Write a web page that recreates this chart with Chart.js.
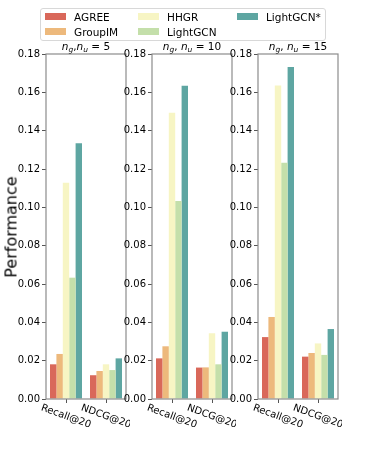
<!DOCTYPE html>
<html>
<head>
<meta charset="utf-8">
<script src="https://cdn.jsdelivr.net/npm/chart.js@4.4.0/dist/chart.umd.min.js"></script>
<style>
  body { margin: 0; background: #fff; }
  #wrap { position: relative; width: 374px; height: 449px; font-family: "DejaVu Sans", sans-serif; overflow: hidden; }
  canvas { position: absolute; top: 0; }
  .ptitle { position: absolute; top: 40px; font-size: 10.5px; line-height: 12px; text-align: center; white-space: nowrap; transform: translateX(-50%); }
  .ptitle sub { font-size: 7.5px; line-height: 0; vertical-align: -2px; }
  #ylab { position: absolute; left: 11px; top: 227px; font-size: 16px; transform: translate(-50%, -50%) rotate(-90deg); white-space: nowrap; }
  #legend { position: absolute; left: 40px; top: 8px; width: 284px; height: 31px; border: 1px solid #d8d8d8; border-radius: 3px; background: #fff; }
  .item { position: absolute; font-size: 10.5px; line-height: 12px; white-space: nowrap; }
  .sw { position: absolute; width: 21px; height: 7px; }
</style>
</head>
<body>
<div id="wrap">
  <div id="legend"></div>
  <div id="ylab">Performance</div>
</div>
<script>
// data
const categories = ['Recall@20', 'NDCG@20'];
const methods = ['AGREE', 'GroupIM', 'HHGR', 'LightGCN', 'LightGCN*'];
const colors = ['#d9685a', '#edb97c', '#f7f5c4', '#c4dfaa', '#5ea6a2'];
const groupSizes = [5, 10, 15];
const yTicks = [0, 0.02, 0.04, 0.06, 0.08, 0.10, 0.12, 0.14, 0.16, 0.18];

// one row per group size, each [Recall@20, NDCG@20]
const AGREE     = [[0.0181, 0.0124], [0.0212, 0.0164], [0.0323, 0.0221]];
const GroupIM   = [[0.0235, 0.0146], [0.0275, 0.0165], [0.0428, 0.0240]];
const HHGR      = [[0.1128, 0.0181], [0.1494, 0.0343], [0.1636, 0.0290]];
const LightGCN  = [[0.0633, 0.0151], [0.1033, 0.0181], [0.1233, 0.0230]];
const LightGCNs = [[0.1334, 0.0212], [0.1634, 0.0351], [0.1732, 0.0365]];
const seriesRows = [AGREE, GroupIM, HHGR, LightGCN, LightGCNs];

const wrap = document.getElementById('wrap');
const plotLefts = [46, 152, 258];
const plotWidth = 80;
const axisW = 46;
const plotTop = 54;
const plotBottom = 399;

// legend, filled column by column like matplotlib
const legend = document.getElementById('legend');
const colX = [4, 97, 196];
methods.forEach((m, i) => {
  const col = Math.floor(i / 2), row = i % 2;
  const sw = document.createElement('div');
  sw.className = 'sw';
  sw.style.background = colors[i];
  sw.style.left = colX[col] + 'px';
  sw.style.top = (4 + row * 15) + 'px';
  legend.appendChild(sw);
  const t = document.createElement('div');
  t.className = 'item';
  t.textContent = m;
  t.style.left = (colX[col] + 29) + 'px';
  t.style.top = (2 + row * 15) + 'px';
  legend.appendChild(t);
});

const frame = {
  id: 'frame',
  afterDraw(chart) {
    const { ctx, chartArea: a, scales } = chart;
    ctx.save();
    ctx.strokeStyle = '#8c8c8c';
    ctx.lineWidth = 1.2;
    ctx.strokeRect(a.left, a.top, a.right - a.left, a.bottom - a.top);
    // rotated x labels
    ctx.fillStyle = '#000';
    ctx.font = '10px "DejaVu Sans"';
    ctx.textAlign = 'center';
    ctx.textBaseline = 'middle';
    categories.forEach((c, i) => {
      const x = scales.x.getPixelForTick(i);
      ctx.save();
      ctx.translate(x, a.bottom + 17.5);
      ctx.rotate(20 * Math.PI / 180);
      ctx.fillText(c, 0, 0);
      ctx.restore();
    });
    ctx.restore();
  }
};

groupSizes.forEach((g, p) => {
  const cv = document.createElement('canvas');
  const w = axisW + plotWidth + 4;
  cv.width = w; cv.height = 449;
  cv.style.width = w + 'px'; cv.style.height = '449px';
  cv.style.left = (plotLefts[p] - axisW) + 'px';
  wrap.insertBefore(cv, legend);

  const title = document.createElement('div');
  title.className = 'ptitle';
  const sep = p === 0 ? ',' : ', ';
  title.innerHTML = '<i>n</i><sub><i>g</i></sub>' + sep + '<i>n</i><sub><i>u</i></sub> = ' + g;
  title.style.left = (plotLefts[p] + plotWidth / 2) + 'px';
  wrap.insertBefore(title, legend);

  new Chart(cv, {
    type: 'bar',
    data: {
      labels: categories,
      datasets: methods.map((m, i) => ({
        label: m,
        data: seriesRows[i][p],
        backgroundColor: colors[i],
        borderWidth: 0,
        categoryPercentage: 0.8,
        barPercentage: 1.0
      }))
    },
    options: {
      responsive: false,
      animation: false,
      layout: { padding: { top: plotTop, right: 4, left: 0, bottom: 0 } },
      plugins: { legend: { display: false }, tooltip: { enabled: false } },
      scales: {
        x: {
          grid: { drawOnChartArea: false, tickLength: 4, color: '#555', offset: false },
          border: { display: false },
          ticks: { display: false },
          afterFit(s) { s.height = 449 - plotBottom; }
        },
        y: {
          min: 0, max: 0.18,
          afterBuildTicks(s) { s.ticks = yTicks.map(v => ({ value: v })); },
          grid: { drawOnChartArea: false, tickLength: 4, color: '#555' },
          border: { display: false },
          ticks: {
            color: '#000', padding: 2,
            font: { family: 'DejaVu Sans', size: 10 },
            callback: v => v.toFixed(2)
          },
          afterFit(s) { s.width = axisW; }
        }
      }
    },
    plugins: [frame]
  });
});
</script>
</body>
</html>
